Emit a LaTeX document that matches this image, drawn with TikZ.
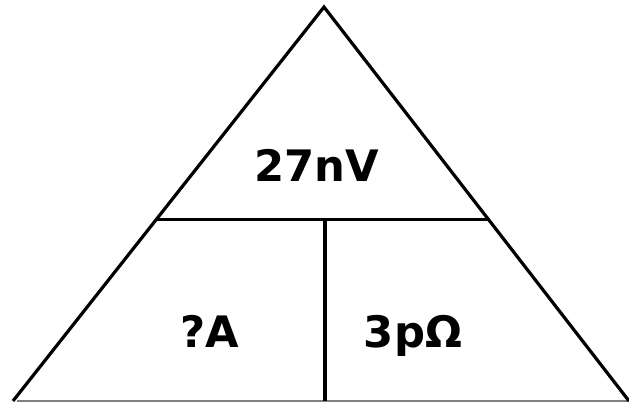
\documentclass[tikz,border=0pt]{standalone}
\usepackage{fontspec}
\setmainfont{DejaVu Sans}

\begin{document}
\begin{tikzpicture}[x=0.75pt, y=-0.75pt, line join=miter]
  \tikzset{qty/.style={font=\bfseries\fontsize{32.5}{36}\selectfont, anchor=base, inner sep=0pt}}
  \useasboundingbox (0,0) rectangle (629,402);

  % corners of the triangle
  \coordinate (apex) at (324,7);
  \coordinate (bl) at (13,401);
  \coordinate (br) at (629,401);
  \coordinate (ml) at (157,219.5);
  \coordinate (mr) at (488,219.5);
  \coordinate (mb) at (325,219.5);
  \coordinate (bb) at (325,401);

  % base line
  \draw[gray, line width=1.2pt] (17,401) -- (629,401);

  % sides, divider and split
  \draw[line width=2.4pt] (bl) -- (apex) -- (br);
  \draw[line width=2.4pt] (ml) -- (mr);
  \draw[line width=2.4pt] (mb) -- (bb);

  % quantities
  \node[qty] (volt) at (316.5,182) {27nV};
  \node[qty] (amp)  at (210,348) {?A};
  \node[qty] (ohm)  at (413,348) {3pΩ};
\end{tikzpicture}
\end{document}
